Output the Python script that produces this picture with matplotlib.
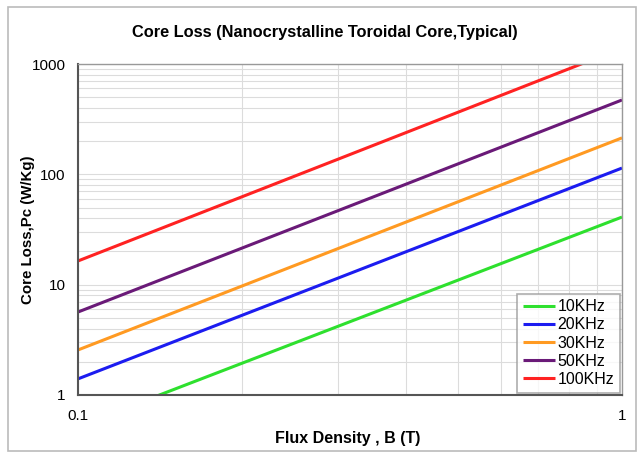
import matplotlib
matplotlib.use('Agg')
import matplotlib.pyplot as plt
from matplotlib.patches import Rectangle
from matplotlib.ticker import FixedLocator, NullFormatter

plt.rcParams['font.family'] = ['Liberation Sans', 'DejaVu Sans']

# Data (straight lines on log-log axes, value at B=0.1 and B=1)
flux = [0.1, 1.0]
loss_10k = [0.52, 41]
loss_20k = [1.40, 114]
loss_30k = [2.56, 214]
loss_50k = [5.65, 472]
loss_100k = [16.4, 1395]

labels = ['10KHz', '20KHz', '30KHz', '50KHz', '100KHz']
series = [loss_10k, loss_20k, loss_30k, loss_50k, loss_100k]
colors = ['#2ee02e', '#1c1cf0', '#ff9a22', '#6a1a78', '#ff2222']

W, H = 640, 454
fig = plt.figure(figsize=(6.4, 4.54), dpi=100)
ax = fig.add_axes([78 / W, 1 - 395 / H, 544 / W, 331 / H])

# Outer frame of the chart
fig.patches.append(Rectangle((8 / W, 1 - 451 / H), 628 / W, 444 / H, transform=fig.transFigure,
                             fill=False, edgecolor='#bbbbbb', linewidth=1.2))

for y, lab, c in zip(series, labels, colors):
    ax.plot(flux, y, color=c, linewidth=2.2, label=lab, solid_capstyle='butt')

ax.set_xscale('log')
ax.set_yscale('log')
ax.set_xlim(0.1, 1)
ax.set_ylim(1, 1000)

ax.set_xticks([0.1, 1])
ax.set_xticklabels(['0.1', '1'])
ax.set_yticks([1, 10, 100, 1000])
ax.set_yticklabels(['1', '10', '100', '1000'])
ax.xaxis.set_minor_locator(FixedLocator([i / 10 for i in range(2, 10)]))
ax.xaxis.set_minor_formatter(NullFormatter())
ax.yaxis.set_minor_locator(FixedLocator([m * 10 ** e for e in range(0, 3) for m in range(2, 10)]))
ax.yaxis.set_minor_formatter(NullFormatter())
ax.tick_params(which='both', length=0, labelsize=11)
ax.tick_params(axis='y', pad=9)
ax.tick_params(axis='x', pad=10)

ax.grid(True, which='both', color='#dcdcdc', linewidth=0.8)
ax.set_axisbelow(True)

for s in ['left', 'bottom']:
    ax.spines[s].set_color('#555555')
    ax.spines[s].set_linewidth(1.5)
for s in ['top', 'right']:
    ax.spines[s].set_color('#999999')
    ax.spines[s].set_linewidth(1.0)

fig.text(0.508, 1 - 33 / H, 'Core Loss (Nanocrystalline Toroidal Core,Typical)', fontsize=11.8,
         fontweight='bold', ha='center', va='center')
fig.text(348 / W, 1 - 439 / H, 'Flux Density , B (T)', fontsize=11.5, fontweight='bold',
         ha='center', va='center')
fig.text(28 / W, 1 - 230 / H, 'Core Loss,Pc (W/Kg)', fontsize=10.8, fontweight='bold',
         ha='center', va='center', rotation=90)

leg = ax.legend(loc='lower right', fontsize=11.5, frameon=True, fancybox=False,
                handlelength=2.0, handletextpad=0.15, borderpad=0.35, labelspacing=0.2,
                borderaxespad=0.15)
leg.get_frame().set_edgecolor('#999999')
leg.get_frame().set_linewidth(1.2)

plt.savefig('out.png', dpi=100)
